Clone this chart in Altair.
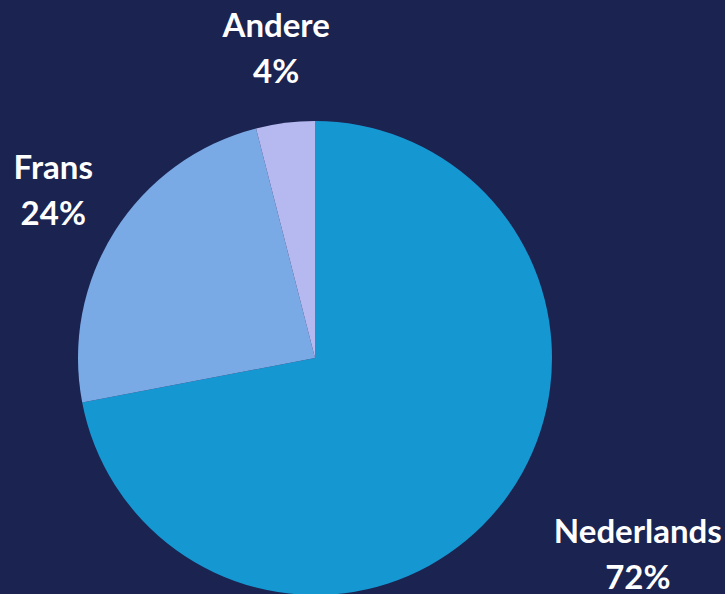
import altair as alt
import pandas as pd

categories = ["Nederlands", "Frans", "Andere"]
values = [72, 24, 4]
percent_labels = ["72%", "24%", "4%"]
colors = ["#1597d2", "#7aaae6", "#b6b9f0"]

df = pd.DataFrame({
    "taal": categories,
    "aandeel": values,
    "pct": percent_labels,
    "volgorde": list(range(len(categories))),
})
df["label"] = df["taal"] + "\n" + df["pct"]

theta_scale = alt.Scale(domain=[0, sum(values)])

arcs = alt.Chart(df).mark_arc(outerRadius=237).encode(
    theta=alt.Theta("aandeel:Q", stack=True, scale=theta_scale),
    order=alt.Order("volgorde:Q"),
    color=alt.Color("taal:N", scale=alt.Scale(domain=categories, range=colors), legend=None),
)

text_style = dict(radius=310, font="Lato", fontWeight="bold", fontSize=33,
                  color="white", lineBreak="\n", lineHeight=46,
                  align="center", baseline="middle", dy=-23)

text_base = alt.Chart(df).transform_window(
    eind="sum(aandeel)", sort=[alt.SortField("volgorde")], frame=[None, 0]
).transform_calculate(
    midden="datum.eind - datum.aandeel / 2"
)

labels_main = text_base.transform_filter(alt.datum.taal != "Nederlands").mark_text(**text_style).encode(
    theta=alt.Theta("midden:Q", scale=theta_scale, stack=None),
    text="label:N",
)
labels_ned = text_base.transform_filter(alt.datum.taal == "Nederlands").mark_text(
    **{**text_style, "dx": 84}
).encode(
    theta=alt.Theta("midden:Q", scale=theta_scale, stack=None),
    text="label:N",
)

chart = alt.layer(arcs, labels_main, labels_ned).properties(
    width=630, height=476,
    padding={"left": 0, "top": 120, "right": 95, "bottom": 0},
    autosize=alt.AutoSizeParams(type="none"),
    background="#1b2350",
).configure_view(stroke=None)

chart.save("out.html", embed_options={"renderer": "svg", "actions": False})
